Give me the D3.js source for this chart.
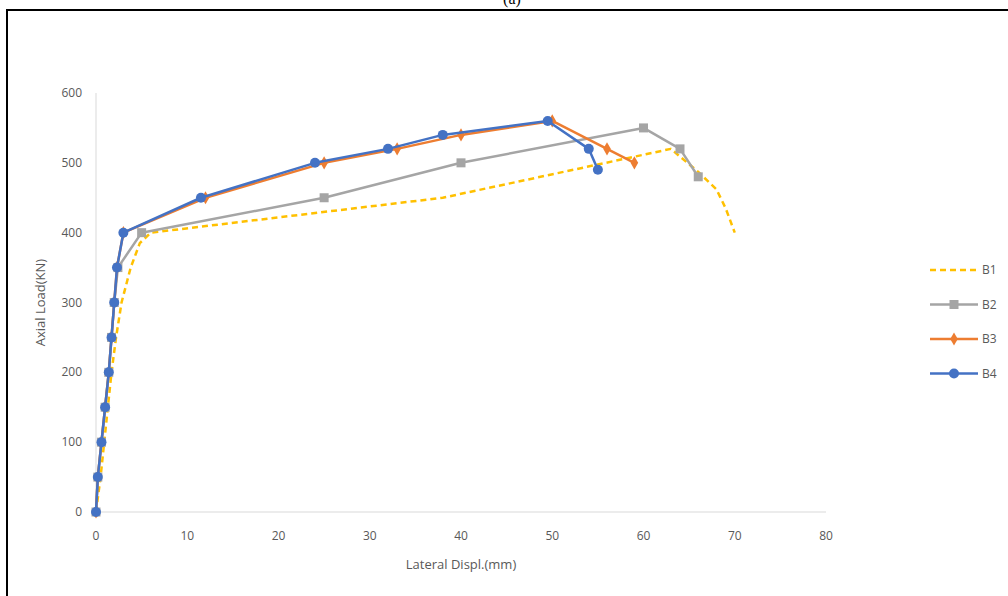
<!DOCTYPE html>
<html>
<head>
<meta charset="utf-8">
<script src="https://cdn.jsdelivr.net/npm/d3@7"></script>
<style>
  body { margin: 0; background: #fff; }
  svg { display: block; }
  text { font-family: "Open Sans", "Noto Sans", sans-serif; fill: #595959; }
</style>
</head>
<body>
<div id="chart"></div>
<script>
// data
var seriesNames = ["B1", "B2", "B3", "B4"];
var seriesColors = ["#FFC000", "#A5A5A5", "#ED7D31", "#4472C4"];

var b1X = [0, 0.5, 0.9, 1.3, 1.7, 2.2, 2.8, 3.8, 4.8, 6, 38, 63, 66, 68, 69, 70];
var b1Y = [0, 50, 100, 150, 200, 250, 300, 350, 385, 400, 450, 520, 487, 462, 435, 400];

var b2X = [0, 0.2, 0.6, 1, 1.4, 1.7, 2, 2.4, 5, 25, 40, 60, 64, 66];
var b2Y = [0, 50, 100, 150, 200, 250, 300, 350, 400, 450, 500, 550, 520, 480];

var b3X = [0, 0.2, 0.6, 1, 1.4, 1.7, 2, 2.3, 3, 12, 25, 33, 40, 50, 56, 59];
var b3Y = [0, 50, 100, 150, 200, 250, 300, 350, 400, 450, 500, 520, 540, 560, 520, 500];

var b4X = [0, 0.2, 0.6, 1, 1.4, 1.7, 2, 2.3, 3, 11.5, 24, 32, 38, 49.5, 54, 55];
var b4Y = [0, 50, 100, 150, 200, 250, 300, 350, 400, 450, 500, 520, 540, 560, 520, 490];

var xTicks = [0, 10, 20, 30, 40, 50, 60, 70, 80];
var yTicks = [0, 100, 200, 300, 400, 500, 600];

var width = 1008, height = 596;
var margin = { top: 93, right: 182, bottom: 84, left: 96 };

var svg = d3.select("#chart").append("svg")
    .attr("width", width)
    .attr("height", height);

// frame around the figure
svg.append("path")
    .attr("d", "M7,600 L7,10 L1010,10")
    .attr("fill", "none")
    .attr("stroke", "#000")
    .attr("stroke-width", 2);

svg.append("text")
    .attr("x", 512)
    .attr("y", 4)
    .attr("text-anchor", "middle")
    .style("font-family", "'Liberation Serif', serif")
    .style("font-size", "16px")
    .style("fill", "#000")
    .text("(a)");

var x = d3.scaleLinear().domain([0, 80]).range([margin.left, width - margin.right]);
var y = d3.scaleLinear().domain([0, 600]).range([height - margin.bottom, margin.top]);

// axes lines
svg.append("line")
    .attr("x1", x(0)).attr("x2", x(80))
    .attr("y1", y(0)).attr("y2", y(0))
    .attr("stroke", "#d9d9d9").attr("stroke-width", 1);
svg.append("line")
    .attr("x1", x(0)).attr("x2", x(0))
    .attr("y1", y(0)).attr("y2", y(600))
    .attr("stroke", "#d9d9d9").attr("stroke-width", 1);

// tick labels
svg.selectAll(".xt").data(xTicks).enter().append("text")
    .attr("class", "xt")
    .attr("x", function(d) { return x(d); })
    .attr("y", y(0) + 28)
    .attr("text-anchor", "middle")
    .style("font-size", "12px")
    .text(function(d) { return d; });

svg.selectAll(".yt").data(yTicks).enter().append("text")
    .attr("class", "yt")
    .attr("x", x(0) - 14)
    .attr("y", function(d) { return y(d) + 4; })
    .attr("text-anchor", "end")
    .style("font-size", "12px")
    .text(function(d) { return d; });

// axis titles
svg.append("text")
    .attr("x", (x(0) + x(80)) / 2)
    .attr("y", 569)
    .attr("text-anchor", "middle")
    .style("font-size", "13px")
    .text("Lateral Displ.(mm)");

svg.append("text")
    .attr("transform", "translate(45," + (y(300)) + ") rotate(-90)")
    .attr("text-anchor", "middle")
    .style("font-size", "13px")
    .text("Axial Load(KN)");

function toPoints(xs, ys) {
    return xs.map(function(v, i) { return [v, ys[i]]; });
}

var series = [
    { name: "B1", pts: toPoints(b1X, b1Y), color: seriesColors[0], dash: "6,4", marker: null },
    { name: "B2", pts: toPoints(b2X, b2Y), color: seriesColors[1], dash: null, marker: "square" },
    { name: "B3", pts: toPoints(b3X, b3Y), color: seriesColors[2], dash: null, marker: "diamond" },
    { name: "B4", pts: toPoints(b4X, b4Y), color: seriesColors[3], dash: null, marker: "circle" }
];

var plot = svg.append("g");

function drawMarker(g, type, color, cx, cy) {
    if (type === "square") {
        g.append("rect")
            .attr("x", cx - 4.5).attr("y", cy - 4.5)
            .attr("width", 9).attr("height", 9)
            .attr("fill", color);
    } else if (type === "diamond") {
        g.append("path")
            .attr("d", d3.symbol().type(d3.symbolDiamond).size(50)())
            .attr("transform", "translate(" + cx + "," + cy + ")")
            .attr("fill", color);
    } else if (type === "circle") {
        g.append("circle")
            .attr("cx", cx).attr("cy", cy).attr("r", 5)
            .attr("fill", color);
    }
}

series.forEach(function(s) {
    var line = d3.line()
        .x(function(d) { return x(d[0]); })
        .y(function(d) { return y(d[1]); });
    var g = plot.append("g");
    g.append("path")
        .attr("d", line(s.pts))
        .attr("fill", "none")
        .attr("stroke", s.color)
        .attr("stroke-width", 2.5)
        .attr("stroke-linejoin", "round")
        .attr("stroke-dasharray", s.dash);
    if (s.marker) {
        s.pts.forEach(function(p) {
            drawMarker(g, s.marker, s.color, x(p[0]), y(p[1]));
        });
    }
});

// legend
var legend = svg.append("g");
series.forEach(function(s, i) {
    var ly = 270 + i * 34.5;
    legend.append("line")
        .attr("x1", 930).attr("x2", 978)
        .attr("y1", ly).attr("y2", ly)
        .attr("stroke", s.color)
        .attr("stroke-width", 2.5)
        .attr("stroke-dasharray", s.dash);
    if (s.marker) drawMarker(legend, s.marker, s.color, 954, ly);
    legend.append("text")
        .attr("x", 982)
        .attr("y", ly + 4)
        .style("font-size", "12px")
        .text(s.name);
});
</script>
</body>
</html>
